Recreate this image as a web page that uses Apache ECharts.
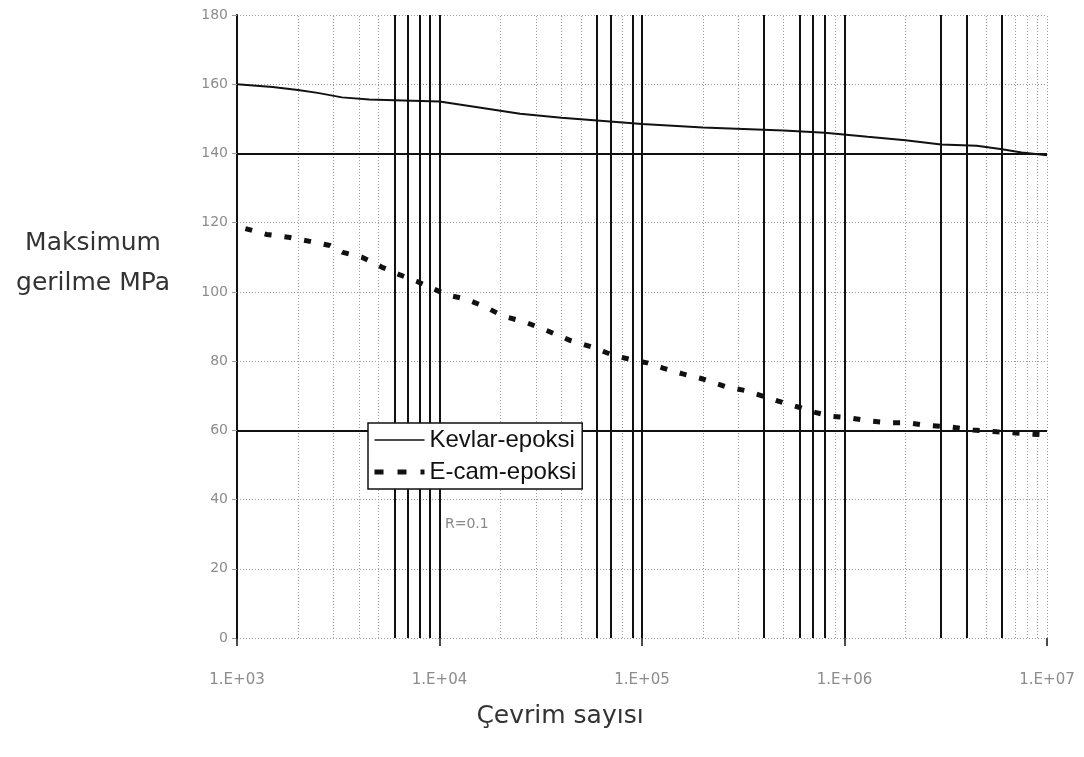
<!DOCTYPE html>
<html>
<head>
<meta charset="utf-8">
<script src="https://cdn.jsdelivr.net/npm/echarts@6/dist/echarts.min.js"></script>
<style>
html,body{margin:0;padding:0;background:#fff;}
#chart{width:1084px;height:757px;}
</style>
</head>
<body>
<div id="chart"></div>
<script>
// ---- data ----
var seriesNames = ['Kevlar-epoksi', 'E-cam-epoksi'];
var kevlarCycles = [1000, 1500, 2000, 2500, 3300, 4500, 6000, 10000, 16000, 25000, 40000, 60000, 100000, 200000, 500000, 800000, 1300000, 2000000, 3000000, 4500000, 6000000, 7500000, 10000000];
var kevlarStress = [160, 159.2, 158.3, 157.5, 156.2, 155.6, 155.4, 155, 153.2, 151.5, 150.3, 149.5, 148.5, 147.5, 146.6, 146, 144.8, 143.8, 142.6, 142.2, 141.2, 140.3, 139.5];
var ecamCycles = [1100, 1400, 1830, 2290, 2880, 3340, 4140, 5260, 6380, 7750, 9510, 10900, 13400, 16800, 20600, 26400, 34300, 44100, 57200, 71900, 90300, 106000, 127000, 159000, 198000, 257000, 323000, 414000, 497000, 603000, 715000, 867000, 1040000, 1290000, 1620000, 2060000, 2550000, 3320000, 4310000, 5670000, 7530000, 9550000];
var ecamStress = [118.3, 116.6, 115.7, 114.6, 113.4, 111.4, 110, 107, 104.9, 103, 100.7, 99.1, 98, 95.7, 93, 91.3, 88.7, 86, 84, 81.7, 80.3, 79.5, 78, 76.3, 74.9, 72.7, 71.5, 69.5, 68, 66.6, 65.2, 64, 63.7, 62.8, 62.2, 62.2, 61.4, 61, 60.1, 59.6, 59.1, 58.7];
var xTickLabels = ['1.E+03', '1.E+04', '1.E+05', '1.E+06', '1.E+07'];
var yTickLabels = ['0', '20', '40', '60', '80', '100', '120', '140', '160', '180'];
// gridlines that print dark in the scanned reference
var darkVertical = [6000, 7000, 8000, 9000, 10000, 60000, 70000, 90000, 100000, 400000, 600000, 700000, 800000, 1000000, 3000000, 4000000, 6000000];
var darkHorizontal = [60, 140];
var yTitleLines = ['Maksimum', 'gerilme MPa'];
var xTitle = 'Çevrim sayısı';
var noteText = 'R=0.1';

// ---- build ----
function pairs(xs, ys) { return xs.map(function (x, i) { return [x, ys[i]]; }); }

var minorVertical = [];
for (var d = 3; d <= 6; d++) {
  for (var k = 2; k <= 10; k++) {
    var v = k * Math.pow(10, d);
    if (darkVertical.indexOf(v) < 0) minorVertical.push(v);
  }
}

var grayStyle = { color: '#9a9a9a', width: 1, type: [1, 2] };
var darkStyle = { color: '#111', width: 2, type: 'solid' };
var markData = [];
minorVertical.forEach(function (v) { markData.push({ xAxis: v, lineStyle: grayStyle }); });
darkVertical.forEach(function (v) { markData.push({ xAxis: v, lineStyle: darkStyle }); });
darkHorizontal.forEach(function (v) { markData.push({ yAxis: v, lineStyle: darkStyle }); });

var chart = echarts.init(document.getElementById('chart'), null, { renderer: 'canvas' });
chart.setOption({
  animation: false,
  backgroundColor: '#fff',
  grid: { left: 237, top: 15, width: 810, height: 623, containLabel: false },
  xAxis: {
    type: 'log', logBase: 10, min: 1000, max: 10000000,
    axisLine: { show: false },
    axisTick: { show: true, length: 8, lineStyle: { color: '#111', width: 1.5 } },
    axisLabel: {
      margin: 35, color: '#8c8c8c', fontFamily: 'DejaVu Sans', fontSize: 15,
      formatter: function (val) { var e = Math.round(Math.log10(val)) - 3; return xTickLabels[e] || ''; }
    },
    splitLine: { show: false }
  },
  yAxis: {
    type: 'value', min: 0, max: 180, interval: 20,
    axisLine: { show: true, onZero: false, lineStyle: { color: '#111', width: 2 } },
    axisTick: { show: true, length: 5, lineStyle: { color: '#999' } },
    axisLabel: {
      margin: 9, color: '#8c8c8c', fontFamily: 'DejaVu Sans', fontSize: 14,
      formatter: function (val) { return yTickLabels[Math.round(val / 20)]; }
    },
    splitLine: { show: true, lineStyle: grayStyle }
  },
  legend: {
    data: [
      { name: seriesNames[0], lineStyle: { width: 1.5 } },
      { name: seriesNames[1], lineStyle: { width: 5, type: [9, 14] } }
    ],
    orient: 'vertical', left: 368, top: 423,
    backgroundColor: '#fff', borderColor: '#111', borderWidth: 1.5,
    padding: [5, 6, 5, 4], itemGap: 8, itemWidth: 50, itemHeight: 14,
    itemStyle: { opacity: 0 },
    textStyle: { fontFamily: 'Liberation Sans', fontSize: 24, color: '#111' },
    z: 10
  },
  series: [
    {
      name: seriesNames[0], type: 'line', z: 3,
      data: pairs(kevlarCycles, kevlarStress),
      showSymbol: false, symbol: 'none',
      lineStyle: { color: '#111', width: 2 },
      itemStyle: { color: '#111' },
      markLine: { silent: true, symbol: ['none', 'none'], label: { show: false }, z: 1, animation: false, data: markData }
    },
    {
      name: seriesNames[1], type: 'line', z: 3,
      data: pairs(ecamCycles, ecamStress),
      showSymbol: false, symbol: 'none',
      lineStyle: { color: '#111', width: 5, type: [7, 13], cap: 'butt' },
      itemStyle: { color: '#111' }
    }
  ],
  graphic: [
    { type: 'text', x: 93, y: 243, style: { text: yTitleLines[0], font: '25px "DejaVu Sans"', fill: '#333', align: 'center', verticalAlign: 'middle' } },
    { type: 'text', x: 93, y: 283, style: { text: yTitleLines[1], font: '25px "DejaVu Sans"', fill: '#333', align: 'center', verticalAlign: 'middle' } },
    { type: 'text', x: 560, y: 716, style: { text: xTitle, font: '25px "DejaVu Sans"', fill: '#333', align: 'center', verticalAlign: 'middle' } },
    { type: 'text', x: 445, y: 524, style: { text: noteText, font: '14px "DejaVu Sans"', fill: '#888', align: 'left', verticalAlign: 'middle' } }
  ]
});
</script>
</body>
</html>
